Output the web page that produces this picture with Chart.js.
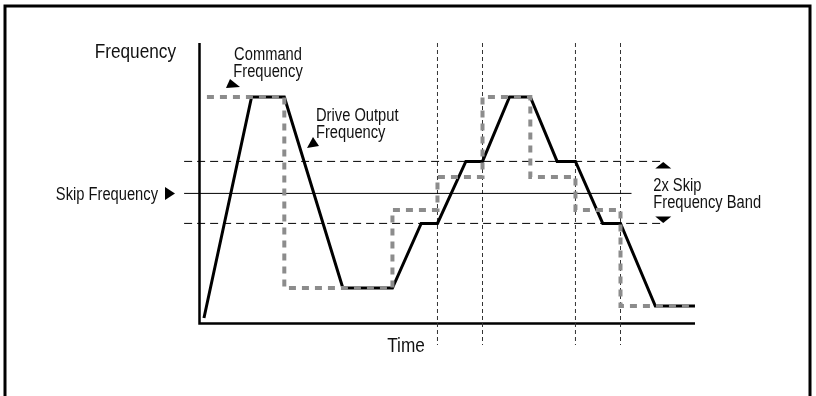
<!DOCTYPE html>
<html>
<head>
<meta charset="utf-8">
<script src="https://cdn.jsdelivr.net/npm/chart.js@4/dist/chart.umd.min.js"></script>
<style>
  html, body { margin: 0; padding: 0; background: #fff; }
  #wrap { width: 816px; height: 396px; }
</style>
</head>
<body>
<div id="wrap"><canvas id="chart" width="816" height="396"></canvas></div>
<script>
// time (s) and frequency (Hz)
const driveTime = [0.5, 5.3, 8.6, 14.5, 19.5, 22.4, 24.04, 26.9, 28.58, 31.3, 33.4, 36.1, 37.95, 40.7, 42.49, 46.0, 50];
const driveFreq = [1.25, 56.5, 56.5, 8.75, 8.75, 24.9, 24.9, 40.4, 40.4, 56.5, 56.5, 40.4, 40.4, 24.9, 24.9, 4.25, 4.25];

// command frequency: value held until the next change time
const commandTime = [0.8, 8.6, 19.5, 24.04, 28.58, 33.4, 37.95, 42.49, 50];
const commandFreq = [56.5, 8.75, 28.25, 36.5, 56.5, 36.5, 28.25, 4.25, 4.25];

const skipFreq = 32.4;
const bandLow = 24.9;
const bandHigh = 40.4;
const markTimes = [24.04, 28.58, 37.95, 42.49];

// reference line extents (they run past the axes)
const lineStart = -1.5;
const bandEnd = 46.8;
const skipEnd = 43.6;
const markTop = 70;
const markBottom = -5.5;

const FONT = '"Liberation Sans", Arial, sans-serif';

function pts(xs, ys) {
  return xs.map((x, i) => ({ x: x, y: ys[i] }));
}

function hline(y, x0, x1) {
  return [{ x: x0, y: y }, { x: x1, y: y }];
}

const markData = markTimes.flatMap((t) => [
  { x: t, y: markTop },
  { x: t, y: markBottom },
  { x: t, y: null },
]);

function tri(ctx, a, b, c) {
  ctx.beginPath();
  ctx.moveTo(a[0], a[1]);
  ctx.lineTo(b[0], b[1]);
  ctx.lineTo(c[0], c[1]);
  ctx.closePath();
  ctx.fill();
}

// condensed text: squeeze a normal sans horizontally
function text(ctx, str, x, y, align, size) {
  ctx.save();
  ctx.translate(x, y);
  ctx.scale(0.84, 1);
  ctx.font = size + "px " + FONT;
  ctx.textAlign = align;
  ctx.textBaseline = "alphabetic";
  ctx.fillText(str, 0, 0);
  ctx.restore();
}

const decor = {
  id: "decor",
  beforeDatasetsDraw(chart) {
    const ctx = chart.ctx;
    const a = chart.chartArea;
    ctx.save();
    ctx.strokeStyle = "#000";
    // outer frame (bottom is cut off)
    ctx.lineWidth = 3;
    ctx.beginPath();
    ctx.moveTo(5, 396);
    ctx.lineTo(5, 6);
    ctx.lineTo(810, 6);
    ctx.lineTo(810, 396);
    ctx.stroke();
    // axes
    ctx.lineWidth = 2.5;
    ctx.beginPath();
    ctx.moveTo(a.left + 0.5, a.top);
    ctx.lineTo(a.left + 0.5, a.bottom + 0.5);
    ctx.lineTo(a.right, a.bottom + 0.5);
    ctx.stroke();
    ctx.restore();
  },
  afterDraw(chart) {
    const ctx = chart.ctx;
    const a = chart.chartArea;
    const x = chart.scales.x;
    const y = chart.scales.y;
    ctx.save();
    ctx.fillStyle = "#111";

    text(ctx, "Frequency", a.left - 23, a.top + 15, "right", 20.5);
    text(ctx, "Time", 406, a.bottom + 29, "center", 20.5);

    text(ctx, "Command", 268, 60, "center", 17.5);
    text(ctx, "Frequency", 268, 77, "center", 17.5);
    text(ctx, "Drive Output", 316, 121, "left", 17.5);
    text(ctx, "Frequency", 316, 138, "left", 17.5);

    const ys = y.getPixelForValue(skipFreq);
    text(ctx, "Skip Frequency", 158, ys + 7, "right", 17.5);

    const xb = x.getPixelForValue(bandEnd);
    text(ctx, "2x Skip", xb - 10, ys - 2, "left", 17.5);
    text(ctx, "Frequency Band", xb - 10, ys + 15, "left", 17.5);

    ctx.fillStyle = "#000";
    // pointers
    tri(ctx, [226, 88], [230, 79], [240, 87]);
    tri(ctx, [307, 148], [313, 137], [319, 146]);
    tri(ctx, [165, ys - 6.5], [165, ys + 6.5], [175, ys]);
    const yh = y.getPixelForValue(bandHigh);
    const yl = y.getPixelForValue(bandLow);
    tri(ctx, [xb - 8, yh + 7], [xb + 8, yh + 7], [xb, yh + 0.5]);
    tri(ctx, [xb - 8, yl - 7], [xb + 8, yl - 7], [xb, yl - 0.5]);
    ctx.restore();
  },
};

new Chart(document.getElementById("chart"), {
  type: "line",
  data: {
    datasets: [
      {
        label: "Command Frequency",
        data: pts(commandTime, commandFreq),
        stepped: "before",
        borderColor: "#8c8c8c",
        borderWidth: 4,
        borderDash: [7, 6],
        borderCapStyle: "butt",
        pointRadius: 0,
        fill: false,
      },
      {
        label: "Drive Output Frequency",
        data: pts(driveTime, driveFreq),
        borderColor: "#000",
        borderWidth: 3,
        borderJoinStyle: "miter",
        pointRadius: 0,
        tension: 0,
        fill: false,
      },
      {
        label: "Band high",
        data: hline(bandHigh, lineStart, bandEnd),
        borderColor: "#000",
        borderWidth: 1,
        borderDash: [8, 5],
        pointRadius: 0,
        clip: false,
      },
      {
        label: "Band low",
        data: hline(bandLow, lineStart, bandEnd),
        borderColor: "#000",
        borderWidth: 1,
        borderDash: [8, 5],
        pointRadius: 0,
        clip: false,
      },
      {
        label: "Skip Frequency",
        data: hline(skipFreq, lineStart, skipEnd),
        borderColor: "#000",
        borderWidth: 1,
        pointRadius: 0,
        clip: false,
      },
      {
        label: "Marks",
        data: markData,
        borderColor: "#333",
        borderWidth: 1,
        borderDash: [4, 3],
        pointRadius: 0,
        spanGaps: false,
        clip: false,
      },
    ],
  },
  options: {
    responsive: false,
    animation: false,
    layout: {
      padding: { left: 199, right: 121, top: 43, bottom: 73 },
    },
    plugins: {
      legend: { display: false },
      tooltip: { enabled: false },
    },
    scales: {
      x: { type: "linear", min: 0, max: 50, display: false },
      y: { type: "linear", min: 0, max: 70, display: false },
    },
  },
  plugins: [decor],
});
</script>
</body>
</html>
